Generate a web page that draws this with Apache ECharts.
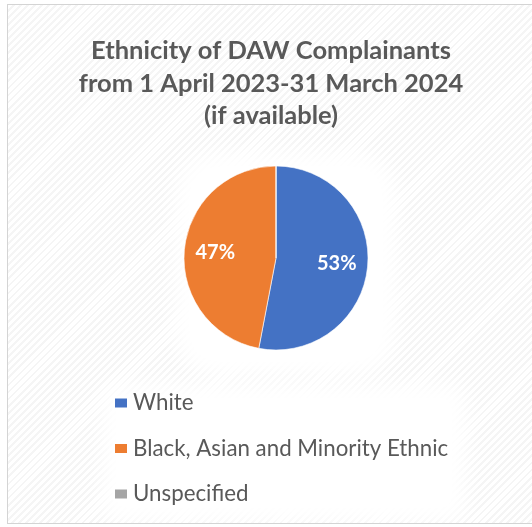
<!DOCTYPE html>
<html>
<head>
<meta charset="utf-8">
<script src="https://cdn.jsdelivr.net/npm/echarts@6/dist/echarts.min.js"></script>
<style>
  html, body { margin: 0; padding: 0; background: #ffffff; }
  #frame {
    position: absolute; left: 7px; top: 4px; width: 540px; height: 520px;
    border: 1px solid #d4d4d4; border-right: none; box-sizing: border-box;
    background: repeating-linear-gradient(135deg, #ffffff 0px, #ffffff 3px, #f5f5f5 3px, #f5f5f5 5px);
    overflow: hidden;
  }
  /* soft white glow behind the pie and the legend */
  .glow { position: absolute; background: #ffffff; filter: blur(10px); }
  #glow-pie { left: 168px; top: 148px; width: 220px; height: 222px; border-radius: 40px; }
  #glow-legend { left: 95px; top: 380px; width: 362px; height: 136px; border-radius: 10px; }
  #chart { position: absolute; left: 0; top: 0; width: 532px; height: 527px; }
</style>
</head>
<body>
<div id="frame">
  <div class="glow" id="glow-pie"></div>
  <div class="glow" id="glow-legend"></div>
</div>
<div id="chart"></div>
<script>
// Complainant ethnicity breakdown, 1 April 2023 - 31 March 2024
const titleLines = ['Ethnicity of DAW Complainants', 'from 1 April 2023-31 March 2024', '(if available)'];
const categories = ['White', 'Black, Asian and Minority Ethnic', 'Unspecified'];
const shares = [53, 47, 0];
const colours = ['#4472C4', '#ED7D31', '#A5A5A5'];

const FONT = 'Lato';

const slices = categories.map((name, i) => ({
  name: name,
  value: shares[i],
  itemStyle: { color: colours[i] }
}));

const chart = echarts.init(document.getElementById('chart'), null, { renderer: 'canvas' });

chart.setOption({
  backgroundColor: 'transparent',
  animation: false,
  title: {
    text: titleLines.join('\n'),
    left: 266,
    top: 30,
    textAlign: 'center',
    textStyle: {
      fontFamily: FONT,
      fontWeight: 'bold',
      fontSize: 25.5,
      lineHeight: 32.5,
      color: '#595959'
    }
  },
  legend: {
    orient: 'vertical',
    left: 113,
    top: 392,
    padding: 0,
    itemWidth: 14,
    itemHeight: 11,
    itemGap: 23.5,
    icon: 'rect',
    data: categories.map((name, i) => ({ name: name, itemStyle: { color: colours[i] } })),
    textStyle: { fontFamily: FONT, fontSize: 22.3, color: '#595959', padding: [0, 0, 0, 0] },
    selectedMode: false
  },
  series: [
    {
      // filled wedges
      type: 'pie',
      center: [276, 258],
      radius: [0, 92],
      startAngle: 90,
      clockwise: true,
      silent: true,
      label: { show: false },
      labelLine: { show: false },
      itemStyle: { borderColor: '#ffffff', borderWidth: 0.6 },
      data: slices
    },
    {
      // transparent ring carrying the percentage labels a little further out
      type: 'pie',
      center: [276, 258],
      radius: [24, 92],
      startAngle: 90,
      clockwise: true,
      silent: true,
      itemStyle: { color: 'rgba(0,0,0,0)' },
      label: {
        show: true,
        position: 'inside',
        formatter: p => p.value > 0 ? p.value + '%' : '',
        fontFamily: FONT,
        fontWeight: 'bold',
        fontSize: 20,
        color: '#ffffff'
      },
      labelLine: { show: false },
      data: categories.map((name, i) => ({ name: name, value: shares[i] }))
    }
  ]
});
</script>
</body>
</html>
